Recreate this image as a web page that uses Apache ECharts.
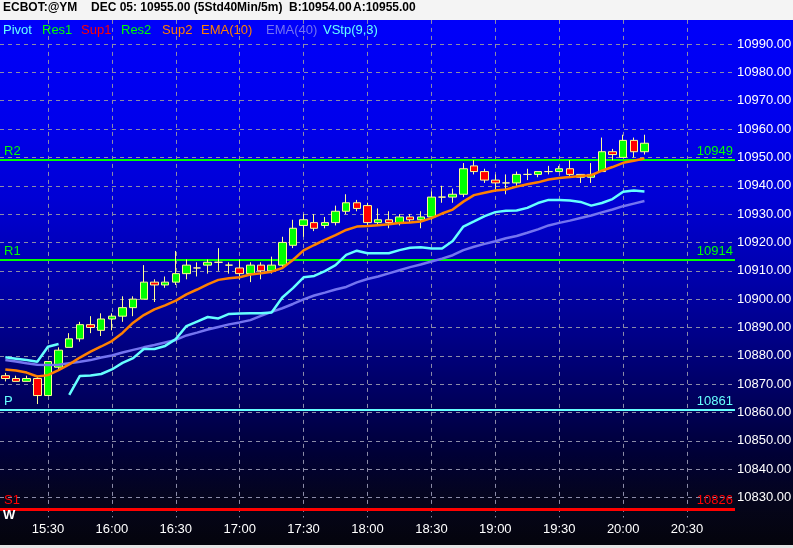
<!DOCTYPE html>
<html><head><meta charset="utf-8">
<script src="https://cdn.jsdelivr.net/npm/echarts@6/dist/echarts.min.js"></script>
<style>
html,body{margin:0;padding:0;background:#000;overflow:hidden;}
#c{width:793px;height:548px;background:linear-gradient(to bottom,#F4F4F4 0px,#F4F4F4 20px,#0000FA 20px,#0000EC 120px,#0000D4 200px,#0000AA 280px,#000085 340px,#00005C 400px,#000035 455px,#05051C 500px,#04040C 545px,#E4E4E4 545px,#E4E4E4 548px);}
</style>
</head><body><div id="c"></div>
<script>
// ---- data ----
const times = ['15:10','15:15','15:20','15:25','15:30','15:35','15:40','15:45','15:50','15:55',
  '16:00','16:05','16:10','16:15','16:20','16:25','16:30','16:35','16:40','16:45','16:50','16:55',
  '17:00','17:05','17:10','17:15','17:20','17:25','17:30','17:35','17:40','17:45','17:50','17:55',
  '18:00','18:05','18:10','18:15','18:20','18:25','18:30','18:35','18:40','18:45','18:50','18:55',
  '19:00','19:05','19:10','19:15','19:20','19:25','19:30','19:35','19:40','19:45','19:50','19:55',
  '20:00','20:05','20:10','20:15','20:20','20:25','20:30','20:35','20:40','20:45','20:50'];
const opens  = [10873,10872,10871,10872,10866,10876,10883,10886,10891,10889,10893,10894,10897,10900,10906,10905,10906,10909,10911,10912,10913,10912,10911,10909,10912,10910,10912,10919,10926,10927,10926,10927,10931,10934,10933,10927,10928,10927,10929,10928,10929,10936,10936,10937,10947,10945,10942,10941,10941,10944,10944,10945,10945,10946,10944,10943,10945,10952,10950,10956,10952];
const closes = [10872,10871,10872,10866,10878,10882,10886,10891,10890,10893,10894,10897,10900,10906,10905,10906,10909,10912,10911,10913,10913,10912,10909,10912,10910,10912,10920,10925,10928,10925,10927,10931,10934,10932,10927,10928,10927,10929,10928,10929,10936,10936,10937,10946,10945,10942,10941,10941,10944,10944,10945,10945,10946,10944,10943,10944,10952,10951,10956,10952,10955];
const lows   = [10871,10871,10871,10863,10866,10875,10883,10885,10888,10887,10889,10892,10894,10900,10899,10904,10905,10907,10908,10909,10910,10909,10907,10906,10907,10909,10911,10918,10922,10924,10925,10926,10930,10931,10926,10926,10925,10926,10927,10925,10928,10934,10934,10936,10944,10941,10938,10937,10940,10942,10943,10944,10945,10943,10941,10941,10945,10949,10950,10950,10951];
const highs  = [10874,10873,10873,10873,10878,10883,10888,10892,10894,10895,10895,10901,10901,10912,10907,10908,10917,10914,10913,10914,10918,10913,10914,10913,10913,10915,10922,10928,10930,10930,10929,10933,10937,10935,10934,10932,10931,10930,10930,10931,10938,10940,10939,10948,10949,10946,10944,10944,10945,10946,10945,10947,10947,10949,10944,10948,10957,10953,10958,10957,10958];
const ema10  = [10875.2,10874.8,10874.1,10872.7,10873.2,10875.0,10877.0,10879.4,10881.5,10883.3,10885.2,10888.1,10891.7,10894.4,10896.4,10897.8,10899.5,10901.7,10903.4,10905.2,10906.8,10907.4,10907.7,10908.7,10909.1,10909.7,10911.0,10913.8,10917.2,10919.1,10920.9,10922.6,10924.4,10925.6,10925.8,10926.1,10926.4,10926.9,10927.0,10927.4,10928.6,10930.2,10931.6,10934.4,10936.7,10937.5,10938.3,10938.7,10939.7,10940.5,10941.2,10942.2,10942.7,10943.1,10943.4,10943.7,10945.3,10946.6,10948.1,10948.8,10949.6];
const ema40  = [10878.5,10878.0,10877.4,10876.9,10876.8,10876.9,10877.4,10877.9,10878.5,10879.4,10880.1,10881.2,10882.1,10883.0,10883.8,10884.7,10885.6,10887.2,10888.2,10889.3,10890.2,10891.1,10891.8,10892.6,10894.1,10895.5,10896.8,10898.3,10899.9,10901.3,10902.3,10903.4,10904.3,10905.9,10907.1,10908.0,10909.1,10910.2,10911.3,10912.2,10913.3,10914.3,10915.5,10917.3,10918.5,10919.5,10920.4,10921.5,10922.3,10923.4,10924.6,10926.0,10926.9,10927.7,10928.6,10929.5,10930.6,10931.6,10932.8,10933.7,10934.6];
const vstop  = [10879.5,10879.0,10878.5,10877.9,10883.2,10884.2,10866.2,10872.9,10873.1,10873.6,10875.2,10877.5,10879.2,10882.4,10882.4,10883.5,10885.9,10890.5,10892.1,10893.7,10893.2,10894.8,10894.9,10895.0,10895.0,10895.3,10900.6,10903.9,10907.7,10908.2,10909.9,10912.0,10915.6,10917.1,10916.2,10916.2,10916.2,10917.3,10918.1,10918.3,10917.9,10917.9,10920.5,10925.6,10927.4,10929.3,10930.7,10931.2,10931.3,10932.2,10933.9,10935.0,10935.0,10934.8,10934.3,10933.0,10933.9,10935.3,10937.9,10938.3,10938.0];
const vstopFlipIndex = 6; // stop switches from above price to below price here
const levelNames  = ['R2','R1','P','S1'];
const levelValues = [10949,10914,10861,10826];
const lastPrice = 10955;
const headerTexts = ['ECBOT:@YM','DEC 05: 10955.00 (5Std40Min/5m)','B:10954.00','A:10955.00'];
const legendNames = ['Pivot','Res1','Sup1','Res2','Sup2','EMA(10)','EMA(40)','VStp(9,3)'];

// ---- styling ----
const NARROW = "'Liberation Sans',Arial,sans-serif";
const SANS = "'Liberation Sans',Arial,sans-serif";
const C_CYAN = '#66FFFF', C_GREEN = '#00FF00', C_RED = '#FF0000', C_ORANGE = '#FF8000', C_SLATE = '#7474F0';
const levelColors = [C_GREEN, C_GREEN, C_CYAN, C_RED];
const levelWidths = [2, 2, 2, 3];
const legendColors = [C_CYAN, C_GREEN, C_RED, C_GREEN, C_ORANGE, C_ORANGE, C_SLATE, C_CYAN];
const legendX = [3, 42, 81, 121, 162, 201, 266, 323];
const headerX = [3, 91, 289, 353];
const GRID = '#8C8CA8';
const FS = 13;

const candleData = opens.map((o, i) => [o, closes[i], lows[i], highs[i]]);
const vstopDown = vstop.map((v, i) => i < vstopFlipIndex ? v : null);
const vstopUp = vstop.map((v, i) => i >= vstopFlipIndex ? v : null);
const gridTimes = times.filter(t => t.endsWith(':00') || t.endsWith(':30'));

const gridLineItems = gridTimes.map(t => [
  {coord: [t, 10998.5], lineStyle: {color: GRID, type: [4, 4], width: 1}, label: {show: false}},
  {coord: [t, 10823], lineStyle: {color: GRID, type: [4, 4], width: 1}, label: {show: false}}
]);
const levelItems = [];
levelNames.forEach((n, k) => {
  const ls = {color: levelColors[k], width: levelWidths[k], type: 'solid'};
  levelItems.push({yAxis: levelValues[k], lineStyle: ls,
    label: {show: true, position: 'insideStartTop', formatter: n, color: levelColors[k], fontFamily: NARROW, fontSize: FS, distance: [4, 2]}});
  levelItems.push({yAxis: levelValues[k], lineStyle: ls,
    label: {show: true, position: 'insideEndTop', formatter: String(levelValues[k]), color: levelColors[k], fontFamily: NARROW, fontSize: FS, distance: [2, 2]}});
});

const graphics = [];
graphics.push({type: 'rect', z: 100, shape: {x: 0, y: 0, width: 793, height: 20}, style: {fill: '#F4F4F4'}, silent: true});
headerTexts.forEach((t, k) => graphics.push({type: 'text', z: 101, x: headerX[k], y: 8, silent: true,
  style: {text: t, fill: '#000', font: 'bold 12px ' + SANS, verticalAlign: 'middle', align: 'left'}}));
legendNames.forEach((t, k) => graphics.push({type: 'text', z: 50, x: legendX[k], y: 30, silent: true,
  style: {text: t, fill: legendColors[k], font: '13px ' + SANS, verticalAlign: 'middle', align: 'left'}}));
graphics.push({type: 'text', z: 50, x: 3, y: 515, silent: true,
  style: {text: 'W', fill: '#FFFFFF', font: 'bold 13px ' + SANS, verticalAlign: 'middle', align: 'left'}});

const chart = echarts.init(document.getElementById('c'), null, {renderer: 'canvas', width: 793, height: 548});
chart.setOption({
  animation: false,
  backgroundColor: 'transparent',
  graphic: graphics,
  grid: {left: 0, right: 58, top: 15.65, bottom: 22.05, containLabel: false, outerBoundsMode: 'none'},
  xAxis: {
    type: 'category', data: times, boundaryGap: true,
    axisLine: {show: false}, axisTick: {show: false}, splitLine: {show: false},
    axisLabel: {color: '#FFFFFF', fontFamily: NARROW, fontSize: FS, margin: -3,
      interval: (i, v) => v.endsWith(':00') || v.endsWith(':30')}
  },
  yAxis: {
    type: 'value', position: 'right', min: 10820, max: 11000, interval: 10,
    axisLine: {show: false}, axisTick: {show: false},
    axisLabel: {color: '#FFFFFF', fontFamily: NARROW, fontSize: FS, margin: 2,
      formatter: v => v.toFixed(2), showMinLabel: false, showMaxLabel: false},
    splitLine: {show: true, showMinLine: false, showMaxLine: false, lineStyle: {color: GRID, type: [4, 4], width: 1}}
  },
  series: [
    {
      type: 'candlestick', name: 'YM', data: candleData, z: 3, barWidth: 8,
      itemStyle: {color: '#00FF00', color0: '#FF0000', borderColor: '#FFFF90', borderColor0: '#FFFF90', borderColorDoji: '#FFFF90', borderWidth: 1},
      markLine: {silent: true, symbol: ['none', 'none'], z: 1, animation: false,
        label: {show: false}, data: gridLineItems.concat(levelItems)}
    },
    {type: 'line', name: 'EMA(40)', data: ema40, z: 4, symbol: 'none', showSymbol: false, lineStyle: {color: C_SLATE, width: 2.5}},
    {type: 'line', name: 'VStpDown', data: vstopDown, z: 4, symbol: 'none', showSymbol: false, lineStyle: {color: C_CYAN, width: 2.5}},
    {type: 'line', name: 'VStpUp', data: vstopUp, z: 4, symbol: 'none', showSymbol: false, lineStyle: {color: C_CYAN, width: 2.5}},
    {type: 'line', name: 'EMA(10)', data: ema10, z: 5, symbol: 'none', showSymbol: false, lineStyle: {color: C_ORANGE, width: 2.5},
      markLine: {silent: true, symbol: ['none', 'none'], z: 10, animation: false,
        data: [{yAxis: lastPrice, lineStyle: {width: 0, opacity: 0},
          label: {show: true, position: 'end', distance: 2, formatter: '{p|' + lastPrice + '}',
            rich: {p: {width: 46, height: 13, lineHeight: 13, align: 'center', verticalAlign: 'middle', padding: [1, 4, 1, 4],
              backgroundColor: '#FFFF99', color: '#000000', fontFamily: NARROW, fontSize: FS}}}}]}}
  ]
});
</script>
</body></html>
